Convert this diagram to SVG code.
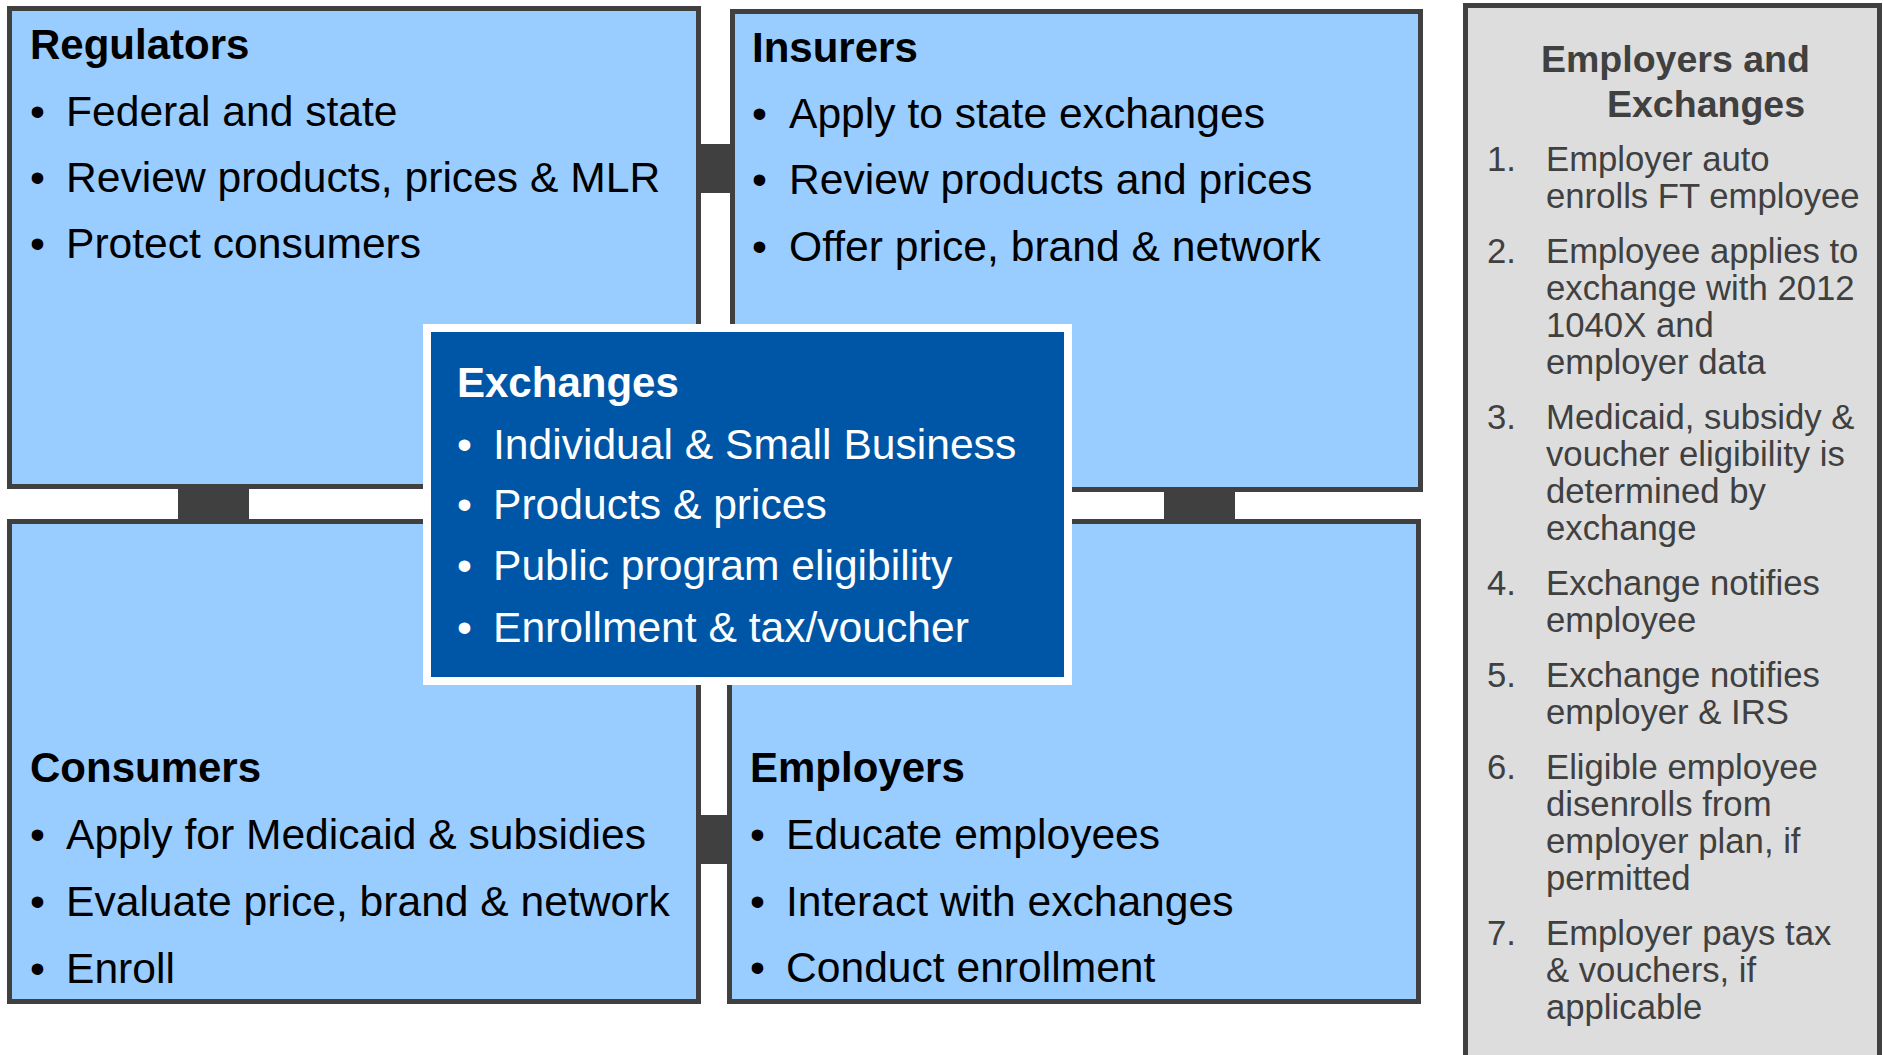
<svg xmlns="http://www.w3.org/2000/svg" width="1883" height="1055" viewBox="0 0 1883 1055">
  <style>
    .box { fill: #99CCFF; stroke: #404040; stroke-width: 5; }
    .link { fill: #404040; }
    .t { font-family: "Liberation Sans", Arial, sans-serif; font-size: 42.6px; fill: #000; }
    .h { font-weight: bold; font-size: 42px; }
    .w { fill: #FFFFFF; }
    .side { font-family: "Liberation Sans", Arial, sans-serif; font-size: 34.7px; fill: #404040; }
    .sideh { font-family: "Liberation Sans", Arial, sans-serif; font-size: 37.5px; font-weight: bold; fill: #404040; }
  </style>

  <rect width="1883" height="1055" fill="#FFFFFF"/>

  <!-- connectors between the four role boxes -->
  <g id="connectors">
    <rect class="link" x="699" y="144" width="33" height="49"/>
    <rect class="link" x="178" y="486" width="71" height="36"/>
    <rect class="link" x="1164" y="489" width="71" height="33"/>
    <rect class="link" x="699" y="815" width="30" height="49"/>
  </g>

  <g id="regulators">
    <rect class="box" x="9.5" y="8.5" width="689" height="478"/>
    <text class="t h" x="30" y="59">Regulators</text>
    <text class="t" x="30" y="126">•</text>
    <text class="t" x="66" y="126">Federal and state</text>
    <text class="t" x="30" y="192">•</text>
    <text class="t" x="66" y="192">Review products, prices &amp; MLR</text>
    <text class="t" x="30" y="258">•</text>
    <text class="t" x="66" y="258">Protect consumers</text>
  </g>

  <g id="insurers">
    <rect class="box" x="732.5" y="11.5" width="688" height="478"/>
    <text class="t h" x="752" y="62">Insurers</text>
    <text class="t" x="752" y="128">•</text>
    <text class="t" x="789" y="128">Apply to state exchanges</text>
    <text class="t" x="752" y="194">•</text>
    <text class="t" x="789" y="194">Review products and prices</text>
    <text class="t" x="752" y="261">•</text>
    <text class="t" x="789" y="261">Offer price, brand &amp; network</text>
  </g>

  <g id="consumers">
    <rect class="box" x="9.5" y="521.5" width="689" height="480"/>
    <text class="t h" x="30" y="782">Consumers</text>
    <text class="t" x="30" y="849">•</text>
    <text class="t" x="66" y="849">Apply for Medicaid &amp; subsidies</text>
    <text class="t" x="30" y="916">•</text>
    <text class="t" x="66" y="916">Evaluate price, brand &amp; network</text>
    <text class="t" x="30" y="983">•</text>
    <text class="t" x="66" y="983">Enroll</text>
  </g>

  <g id="employers">
    <rect class="box" x="729.5" y="521.5" width="689" height="480"/>
    <text class="t h" x="750" y="782">Employers</text>
    <text class="t" x="750" y="849">•</text>
    <text class="t" x="786" y="849">Educate employees</text>
    <text class="t" x="750" y="916">•</text>
    <text class="t" x="786" y="916">Interact with exchanges</text>
    <text class="t" x="750" y="982">•</text>
    <text class="t" x="786" y="982">Conduct enrollment</text>
  </g>

  <g id="exchanges">
    <rect x="423" y="324" width="649" height="361" fill="#FFFFFF"/>
    <rect x="431" y="332" width="633" height="345" fill="#0056A6"/>
    <text class="t h w" x="457" y="397">Exchanges</text>
    <text class="t w" x="457" y="459">•</text>
    <text class="t w" x="493" y="459">Individual &amp; Small Business</text>
    <text class="t w" x="457" y="519">•</text>
    <text class="t w" x="493" y="519">Products &amp; prices</text>
    <text class="t w" x="457" y="580">•</text>
    <text class="t w" x="493" y="580">Public program eligibility</text>
    <text class="t w" x="457" y="642">•</text>
    <text class="t w" x="493" y="642">Enrollment &amp; tax/voucher</text>
  </g>

  <g id="employers-and-exchanges">
    <rect x="1465.5" y="5.5" width="414" height="1060" fill="#DDDDDD" stroke="#404040" stroke-width="5"/>
    <text class="sideh" x="1541" y="72">Employers and</text>
    <text class="sideh" x="1607" y="117">Exchanges</text>

    <text class="side" x="1487" y="171">1.</text>
    <text class="side" x="1546" y="171">Employer auto</text>
    <text class="side" x="1546" y="208">enrolls FT employee</text>

    <text class="side" x="1487" y="263">2.</text>
    <text class="side" x="1546" y="263">Employee applies to</text>
    <text class="side" x="1546" y="300">exchange with 2012</text>
    <text class="side" x="1546" y="337">1040X and</text>
    <text class="side" x="1546" y="374">employer data</text>

    <text class="side" x="1487" y="429">3.</text>
    <text class="side" x="1546" y="429">Medicaid, subsidy &amp;</text>
    <text class="side" x="1546" y="466">voucher eligibility is</text>
    <text class="side" x="1546" y="503">determined by</text>
    <text class="side" x="1546" y="540">exchange</text>

    <text class="side" x="1487" y="595">4.</text>
    <text class="side" x="1546" y="595">Exchange notifies</text>
    <text class="side" x="1546" y="632">employee</text>

    <text class="side" x="1487" y="687">5.</text>
    <text class="side" x="1546" y="687">Exchange notifies</text>
    <text class="side" x="1546" y="724">employer &amp; IRS</text>

    <text class="side" x="1487" y="779">6.</text>
    <text class="side" x="1546" y="779">Eligible employee</text>
    <text class="side" x="1546" y="816">disenrolls from</text>
    <text class="side" x="1546" y="853">employer plan, if</text>
    <text class="side" x="1546" y="890">permitted</text>

    <text class="side" x="1487" y="945">7.</text>
    <text class="side" x="1546" y="945">Employer pays tax</text>
    <text class="side" x="1546" y="982">&amp; vouchers, if</text>
    <text class="side" x="1546" y="1019">applicable</text>
  </g>
</svg>
